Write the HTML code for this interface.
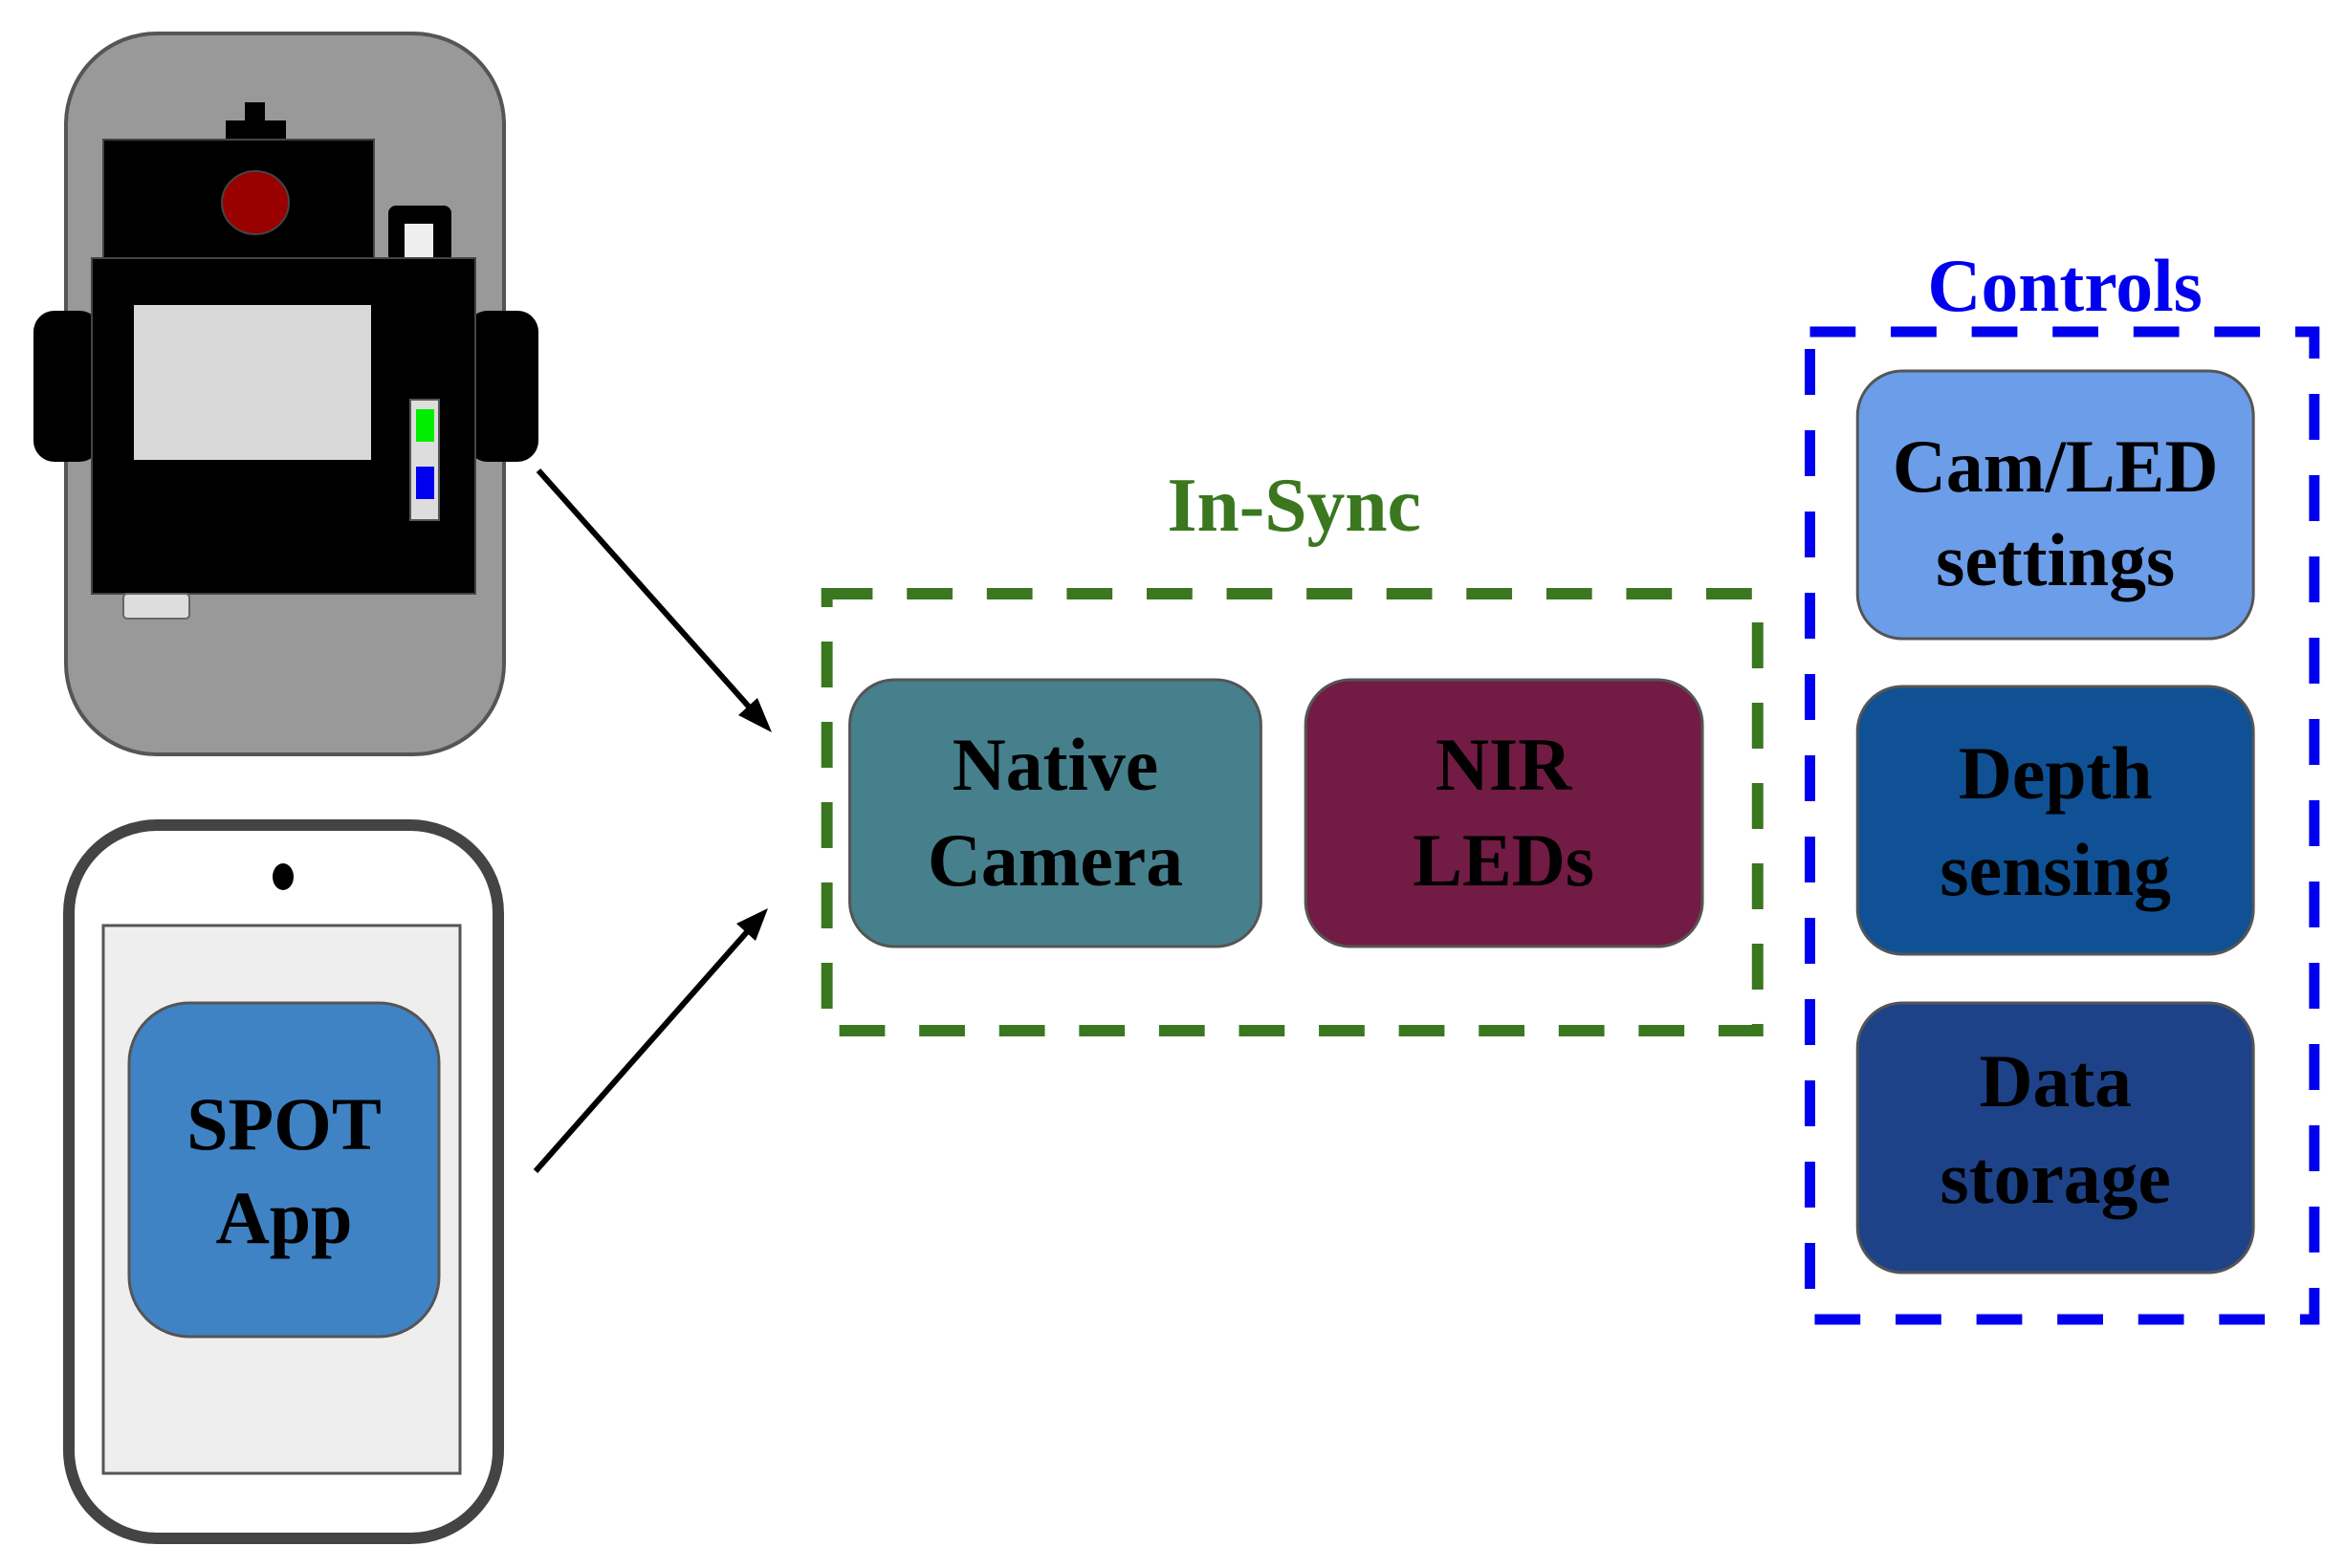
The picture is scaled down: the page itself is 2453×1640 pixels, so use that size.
<!DOCTYPE html>
<html><head><meta charset="utf-8"><style>
html,body{margin:0;padding:0;background:#fff;}
svg{display:block;}
text{font-family:"Liberation Serif",serif;font-weight:bold;text-anchor:middle;}
</style></head><body>
<svg width="2453" height="1640" viewBox="0 0 2453 1640" xmlns="http://www.w3.org/2000/svg">
<!-- gray device -->
<rect x="69" y="35" width="458" height="754" rx="95" fill="#999" stroke="#555" stroke-width="4"/>
<rect x="256" y="107" width="21" height="20" fill="#000"/>
<rect x="236" y="126" width="63" height="20" fill="#000"/>
<rect x="108" y="146" width="283" height="126" fill="#000" stroke="#444" stroke-width="2"/>
<ellipse cx="267" cy="212" rx="35" ry="33" fill="#990000" stroke="#444" stroke-width="2"/>
<rect x="406" y="215" width="66" height="60" rx="8" fill="#000"/>
<rect x="423" y="234" width="30" height="38" fill="#eee"/>
<rect x="35" y="325" width="70" height="158" rx="22" fill="#000"/>
<rect x="488" y="325" width="75" height="158" rx="22" fill="#000"/>
<rect x="96" y="270" width="401" height="351" fill="#000" stroke="#444" stroke-width="2"/>
<rect x="140" y="319" width="248" height="162" fill="#d8d8d8"/>
<rect x="429" y="418" width="30" height="126" fill="#ddd" stroke="#555" stroke-width="2"/>
<rect x="435" y="428" width="19" height="34" fill="#00ee00"/>
<rect x="435" y="488" width="19" height="34" fill="#0000ee"/>
<rect x="129" y="621" width="69" height="26" rx="4" fill="#ddd" stroke="#666" stroke-width="2"/>
<!-- phone -->
<rect x="72" y="863" width="449" height="746" rx="92" fill="#fff" stroke="#444" stroke-width="12"/>
<ellipse cx="296" cy="917" rx="11" ry="14" fill="#000"/>
<rect x="108" y="968" width="373" height="573" fill="#eee" stroke="#555" stroke-width="3"/>
<rect x="135" y="1049" width="324" height="349" rx="63" fill="#3f83c5" stroke="#555" stroke-width="3"/>
<text x="297" y="1202" font-size="78">SPOT</text>
<text x="297" y="1300" font-size="78">App</text>
<!-- arrows -->
<line x1="563" y1="492" x2="790" y2="747" stroke="#000" stroke-width="6"/>
<polygon points="807,766 772,748 792,730" fill="#000"/>
<line x1="560" y1="1225" x2="787" y2="968" stroke="#000" stroke-width="6"/>
<polygon points="803,950 770,966 790,984" fill="#000"/>
<g transform="scale(0.995,1)">
<!-- in-sync -->
<text x="1360" y="555" font-size="80" fill="#3a771f">In-Sync</text>
<rect x="869" y="621" width="978" height="457" fill="none" stroke="#3a771f" stroke-width="12" stroke-dasharray="48,36"/>
<rect x="893" y="711" width="432" height="279" rx="47" fill="#46808c" stroke="#555" stroke-width="3"/>
<text x="1109" y="826" font-size="78">Native</text>
<text x="1109" y="926" font-size="78">Camera</text>
<rect x="1372" y="711" width="417" height="279" rx="47" fill="#721b44" stroke="#555" stroke-width="3"/>
<text x="1580" y="826" font-size="78">NIR</text>
<text x="1580" y="926" font-size="78">LEDs</text>
<!-- controls -->
<text x="2170" y="325" font-size="78" fill="#0000ee">Controls</text>
<rect x="1902" y="347" width="530" height="1033" fill="none" stroke="#0000ee" stroke-width="11" stroke-dasharray="48,37"/>
<rect x="1952" y="388" width="416" height="280" rx="47" fill="#6b9de8" stroke="#555" stroke-width="3"/>
<text x="2160" y="514" font-size="78">Cam/LED</text>
<text x="2160" y="612" font-size="78">settings</text>
<rect x="1952" y="718" width="416" height="280" rx="47" fill="#0f5194" stroke="#555" stroke-width="3"/>
<text x="2160" y="835" font-size="78">Depth</text>
<text x="2160" y="936" font-size="78">sensing</text>
<rect x="1952" y="1049" width="416" height="282" rx="47" fill="#1d4288" stroke="#555" stroke-width="3"/>
<text x="2160" y="1157" font-size="78">Data</text>
<text x="2160" y="1258" font-size="78">storage</text>
</g>
</svg>
</body></html>
